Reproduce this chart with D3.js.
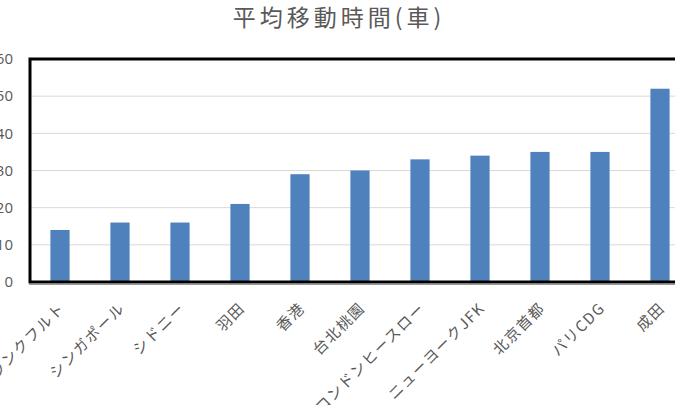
<!DOCTYPE html>
<html lang="ja">
<head>
<meta charset="UTF-8">
<title>平均移動時間(車)</title>
<script src="https://cdn.jsdelivr.net/npm/d3@7"></script>
<style>
  body { margin: 0; background: #fff; overflow: hidden; }
  text { font-family: "Noto Sans CJK JP", "Noto Sans", sans-serif; fill: #595959; }
</style>
</head>
<body>
<div id="chart"></div>
<script>
const airports = ["フランクフルト", "シンガポール", "シドニー", "羽田", "香港", "台北桃園",
  "ロンドンヒースロー", "ニューヨークJFK", "北京首都", "パリCDG", "成田"]
const minutes = [14, 16, 16, 21, 29, 30, 33, 34, 35, 35, 52]
const yTicks = [0, 10, 20, 30, 40, 50, 60]

const w = 675
const h = 405
const plotLeft = 30, plotRight = 690, plotTop = 59, plotBottom = 282

const svg = d3.select("#chart").append("svg")
  .attr("width", w)
  .attr("height", h)

const x = d3.scaleBand()
  .domain(airports)
  .range([plotLeft, plotRight])
  .paddingInner(0.68)
  .paddingOuter(0.34)

const y = d3.scaleLinear()
  .domain([0, 60])
  .range([plotBottom, plotTop])

// gridlines
svg.append("g")
  .selectAll("line")
  .data(yTicks.slice(1, -1))
  .enter().append("line")
  .attr("x1", plotLeft).attr("x2", plotRight)
  .attr("y1", d => y(d)).attr("y2", d => y(d))
  .attr("stroke", "#d9d9d9")
  .attr("stroke-width", 1)

// bars
svg.append("g")
  .selectAll("rect")
  .data(minutes)
  .enter().append("rect")
  .attr("x", (d, i) => x(airports[i]))
  .attr("y", d => y(d))
  .attr("width", x.bandwidth())
  .attr("height", d => plotBottom - y(d))
  .attr("fill", "#4f81bd")

// plot frame
svg.append("path")
  .attr("d", `M${plotRight},${plotTop}H${plotLeft}V${plotBottom}H${plotRight}`)
  .attr("fill", "none")
  .attr("stroke", "#000")
  .attr("stroke-width", 3)
svg.append("line")
  .attr("x1", plotLeft - 1).attr("x2", plotRight)
  .attr("y1", plotBottom + 2.5).attr("y2", plotBottom + 2.5)
  .attr("stroke", "#999")
  .attr("stroke-width", 1)

// y axis
const yAxis = d3.axisLeft(y).tickValues(yTicks).tickSize(0).tickPadding(0)
svg.append("g")
  .attr("transform", "translate(13,0)")
  .call(yAxis)
  .call(g => g.select(".domain").remove())
  .selectAll("text")
  .style("font-size", "15px")
  .style("font-family", "'Open Sans', 'Noto Sans', sans-serif")

// x axis
const xAxis = d3.axisBottom(x).tickSize(0).tickPadding(0)
svg.append("g")
  .attr("transform", `translate(0,${plotBottom})`)
  .call(xAxis)
  .call(g => g.select(".domain").remove())
  .selectAll("text")
  .style("font-size", "15px")
  .style("letter-spacing", "1.5px")
  .attr("text-anchor", "end")
  .attr("y", 0)
  .attr("dy", 0)
  .attr("transform", "translate(6,27) rotate(-45)")

// title
svg.append("text")
  .attr("x", 339)
  .attr("y", 26)
  .attr("text-anchor", "middle")
  .style("font-size", "23px")
  .style("letter-spacing", "4px")
  .text("平均移動時間(車)")
</script>
</body>
</html>
